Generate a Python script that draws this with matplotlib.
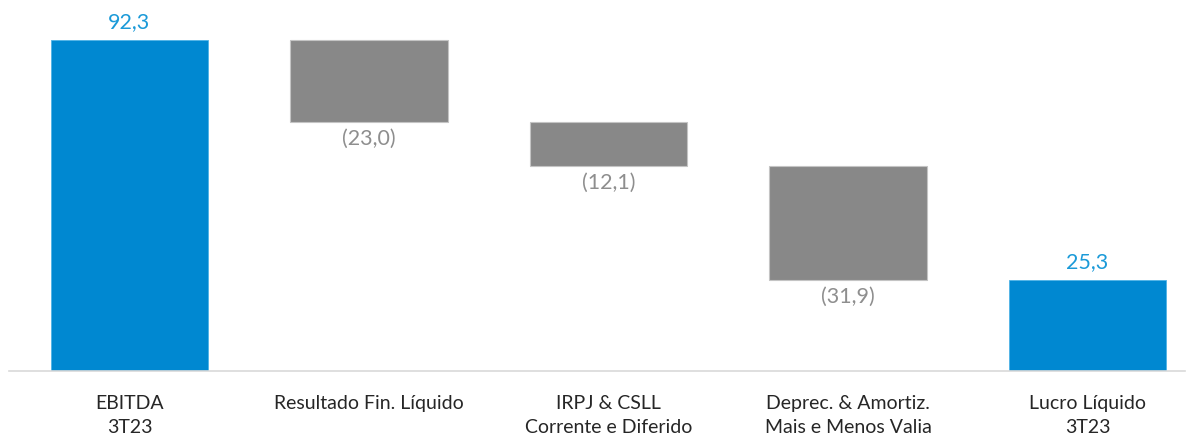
import matplotlib.pyplot as plt

# Waterfall data (R$ mi)
categories = ["EBITDA\n3T23", "Resultado Fin. Líquido", "IRPJ & CSLL\nCorrente e Diferido",
              "Deprec. & Amortiz.\nMais e Menos Valia", "Lucro Líquido\n3T23"]
values = [92.3, -23.0, -12.1, -31.9, 25.3]
is_total = [True, False, False, False, True]
value_labels = ["92,3", "(23,0)", "(12,1)", "(31,9)", "25,3"]

plt.rcParams['font.family'] = ['Lato', 'DejaVu Sans']

fig = plt.figure(figsize=(11.95, 4.36), dpi=100)
W, H = 1195, 436
ax = fig.add_axes([9 / W, 65 / H, 1176 / W, 371 / H])

blue = "#0088d1"
blue_txt = "#1b9ad8"
gray = "#888888"
gray_txt = "#8e8e8e"

running = 0.0
for i, (v, tot) in enumerate(zip(values, is_total)):
    if tot:
        running = v
        ax.bar(i, v, bottom=0, width=0.657, color=blue, edgecolor="#4fb3e6", linewidth=0.6)
        ax.text(i, v + 2.2, value_labels[i], ha="center", va="bottom", fontsize=15.5, color=blue_txt)
    else:
        running = running + v
        ax.bar(i, -v, bottom=running, width=0.657, color=gray, edgecolor="#c4c4c4", linewidth=0.8)
        ax.text(i, running - 1.9, value_labels[i], ha="center", va="top", fontsize=15.5, color=gray_txt)

ax.set_xlim(-0.503, 4.407)
ax.set_ylim(0, 371 / 3.586)
ax.set_xticks(range(len(categories)))
ax.set_xticklabels(categories, fontsize=14, color="#262626", linespacing=1.55)
ax.tick_params(axis="x", length=0, pad=17)
ax.set_yticks([])
for s in ["top", "right", "left"]:
    ax.spines[s].set_visible(False)
ax.spines["bottom"].set_color("#d9d9d9")
ax.spines["bottom"].set_linewidth(1.2)

fig.savefig("out.png", dpi=100)
